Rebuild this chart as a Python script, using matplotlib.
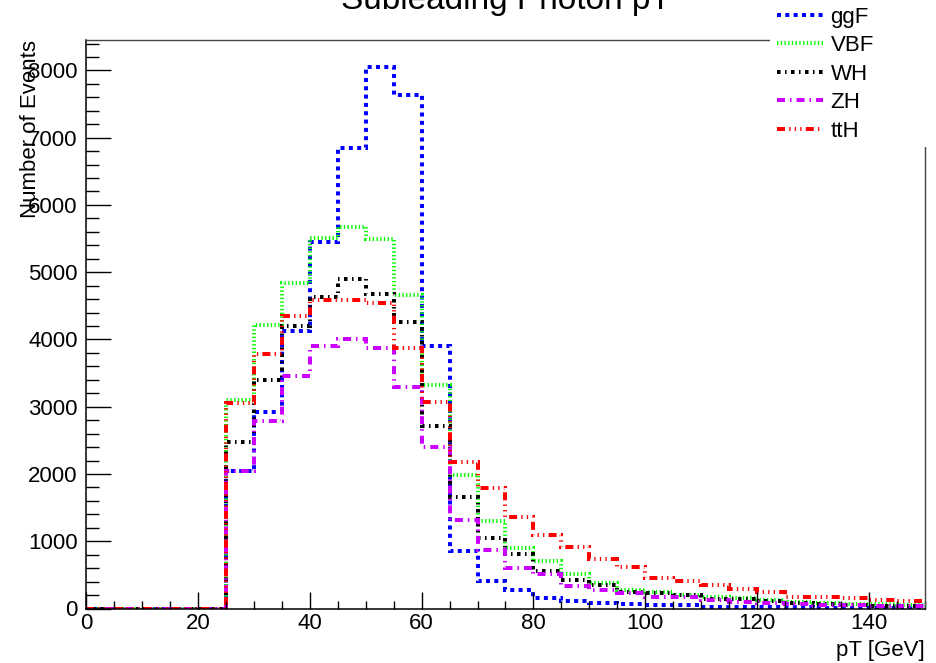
import numpy as np
import matplotlib
matplotlib.use("Agg")
import matplotlib.pyplot as plt
from matplotlib.patches import Rectangle
from matplotlib.ticker import MultipleLocator

plt.rcParams['font.family'] = ['Liberation Sans', 'DejaVu Sans']

# 5 GeV bins from 0 to 150 GeV
bin_edges = np.arange(0, 155, 5)
empty = [0, 0, 0, 0, 0]   # nothing below 25 GeV

ggf = empty + [2050, 2920, 4130, 5450, 6850, 8050, 7640, 3910, 850, 410,
               280, 155, 110, 80, 70, 50, 45, 25, 22, 20, 15, 12, 10, 8, 8]
vbf = empty + [3100, 4210, 4840, 5510, 5670, 5500, 4660, 3320, 1980, 1300,
               900, 705, 510, 385, 275, 240, 200, 175, 150, 120, 95, 80, 70, 60, 55]
wh = empty + [2480, 3400, 4200, 4630, 4900, 4670, 4260, 2720, 1660, 1050,
              805, 555, 420, 345, 250, 225, 200, 145, 135, 110, 80, 65, 50, 40, 35]
zh = empty + [2050, 2790, 3450, 3900, 4010, 3870, 3290, 2400, 1320, 875,
              605, 515, 335, 275, 225, 170, 165, 125, 97, 77, 67, 55, 48, 42, 38]
tth = empty + [3060, 3790, 4350, 4590, 4580, 4545, 3870, 3070, 2180, 1790,
               1360, 1100, 915, 730, 615, 460, 410, 355, 285, 250, 175, 165, 158, 127, 110]

labels = ['ggF', 'VBF', 'WH', 'ZH', 'ttH']
colors = ['#0000ff', '#00ff00', '#000000', '#cc00ff', '#ff0000']
# dash patterns in units of line width (ROOT-like styles)
dashes = [
    (0, (1.0, 1.08)),
    (0, (0.33, 0.6)),
    (0, (0.88, 1.12, 0.38, 1.12)),
    (0, (2.0, 1.25, 0.38, 1.25)),
    (0, (2.0, 1.05, 0.33, 1.05, 0.33, 1.05, 0.33, 1.05)),
]
LW = 2.88  # 4 px at 100 dpi

W, H = 937, 663
fig = plt.figure(figsize=(W / 100, H / 100), dpi=100)
ax = fig.add_axes([86 / W, 1 - 608.5 / H, (925 - 86) / W, (608.5 - 40) / H])

handles = []
for vals, lab, col, ls in zip([ggf, vbf, wh, zh, tth], labels, colors, dashes):
    h = ax.stairs(vals, bin_edges, baseline=None, color=col, linewidth=LW,
                  linestyle=ls, label=lab)
    handles.append(h)

ax.set_xlim(0, 150)
ax.set_ylim(0, 1.05 * max(ggf))

ax.xaxis.set_major_locator(MultipleLocator(20))
ax.xaxis.set_minor_locator(MultipleLocator(5))
ax.yaxis.set_major_locator(MultipleLocator(1000))
ax.yaxis.set_minor_locator(MultipleLocator(200))

ax.tick_params(axis='both', which='both', direction='in', top=False, right=False,
               labelsize=16, width=1.0, color='black')
ax.tick_params(axis='x', which='major', length=12.2, pad=3)
ax.tick_params(axis='x', which='minor', length=6.1)
ax.tick_params(axis='y', which='major', length=18, pad=6)
ax.tick_params(axis='y', which='minor', length=9)

for side in ['left', 'bottom']:
    ax.spines[side].set_linewidth(1.1)
    ax.spines[side].set_color('black')
for side in ['top', 'right']:
    ax.spines[side].set_linewidth(1.0)
    ax.spines[side].set_color('#444444')

ax.set_xlabel('pT [GeV]', fontsize=16, loc='right')
ax.xaxis.set_label_coords(1.0, -0.055)
ax.set_ylabel('Number of Events', fontsize=16, loc='top')
ax.yaxis.set_label_coords(-0.054, 1.0)

fig.text((86 + 925) / 2 / W, 1 - 9.5 / H, 'Subleading Photon pT', fontsize=24,
         ha='center', va='baseline')

# white legend pad over the frame corner
fig.add_artist(Rectangle((770 / W, 1 - 147 / H), 1 - 770 / W, 147 / H,
                         transform=fig.transFigure, facecolor='white',
                         edgecolor='none', zorder=2))
fig.legend(handles, labels, loc='upper left',
           bbox_to_anchor=(777 / W, 1 - 6.5 / H), bbox_transform=fig.transFigure,
           frameon=False, fontsize=16, borderpad=0, borderaxespad=0,
           handlelength=2.05, handletextpad=0.36, labelspacing=0.34).set_zorder(3)

fig.savefig('out.png', dpi=100)
